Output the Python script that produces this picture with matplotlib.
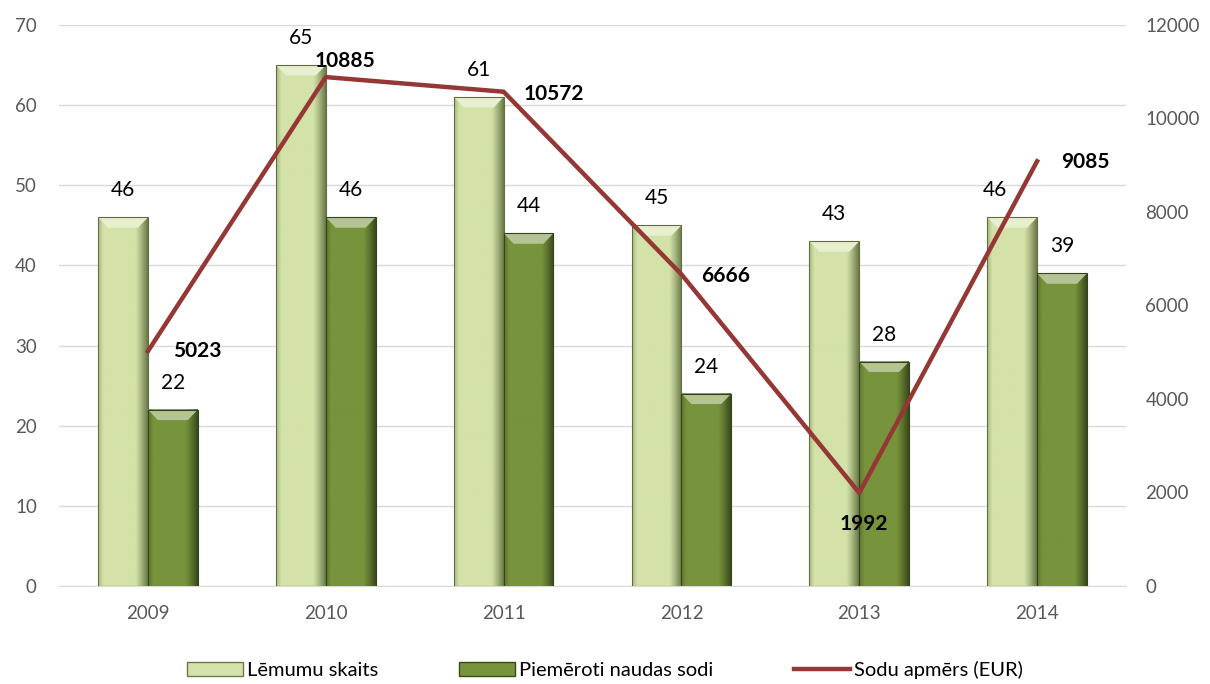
import numpy as np
import matplotlib.pyplot as plt
from matplotlib.colors import to_rgb
from matplotlib.patches import Polygon, Patch
from matplotlib.lines import Line2D

plt.rcParams['font.family'] = ['Lato', 'DejaVu Sans']

years = ['2009', '2010', '2011', '2012', '2013', '2014']
lemumi = [46, 65, 61, 45, 43, 46]
sodi = [22, 46, 44, 24, 28, 39]
apmers = [5023, 10885, 10572, 6666, 1992, 9085]

LIGHT = '#d3e2a8'
DARK = '#77933c'
RED = '#953735'


def bevel_bar(ax, x0, w, h, base, edge):
    base = np.array(to_rgb(base))
    edge = np.array(to_rgb(edge))
    t = np.linspace(0, 1, 60)
    # flat in the middle, darker towards the right edge, a bit at left
    k = np.clip((t - 0.75) / 0.25, 0, 1) ** 1.2 + np.clip((0.1 - t) / 0.1, 0, 1) * 0.4
    k = np.clip(k, 0, 1)
    cols = base[None, :] * (1 - k[:, None]) + edge[None, :] * k[:, None]
    ax.imshow(cols[None, :, :], extent=(x0, x0 + w, 0, h), aspect='auto',
              zorder=2, interpolation='bilinear')
    bw = w * 0.2
    bh = 1.3
    top = base + (1 - base) * 0.45
    ax.add_patch(Polygon([(x0, h), (x0 + w, h), (x0 + w - bw, h - bh), (x0 + bw, h - bh)],
                         closed=True, facecolor=top, edgecolor='none', zorder=3))
    ax.add_patch(plt.Rectangle((x0, 0), w, h, facecolor='none',
                               edgecolor=edge * 0.9, linewidth=0.8, zorder=3))


fig = plt.figure(figsize=(12.1, 6.84), dpi=100)
ax = fig.add_axes([0.0488, 0.1433, 0.8818, 0.8202])
x = np.arange(len(years))
w = 0.28

# the last light-bar label was nudged left in the original to clear the line
light_shift = [0, 0, 0, 0, 0, -17]

for i in x:
    bevel_bar(ax, i - w, w, lemumi[i], LIGHT, '#6b7a48')
    bevel_bar(ax, i, w, sodi[i], DARK, '#3a4a1c')
    ax.annotate(str(lemumi[i]), (i - w / 2, lemumi[i]), xytext=(light_shift[i], 27),
                textcoords='offset pixels', ha='center', va='center',
                fontsize=15, color='black', zorder=6)
    ax.annotate(str(sodi[i]), (i + w / 2, sodi[i]), xytext=(0, 27),
                textcoords='offset pixels', ha='center', va='center',
                fontsize=15, color='black', zorder=6)

ax.set_xlim(-0.5, len(years) - 0.5)
ax.set_ylim(0, 70)
ax.set_yticks(range(0, 71, 10))
ax.set_xticks(x)
ax.set_xticklabels(years)
ax.grid(axis='y', color='#d9d9d9', linewidth=1)
ax.set_axisbelow(True)
for s in ['top', 'right', 'left']:
    ax.spines[s].set_visible(False)
ax.spines['bottom'].set_color('#d9d9d9')
ax.tick_params(axis='y', length=0, labelsize=13.5, labelcolor='#595959', pad=16)
ax.tick_params(axis='x', length=0, labelsize=13.5, labelcolor='#595959', pad=14)

ax2 = ax.twinx()
ax2.plot(x, apmers, color=RED, linewidth=3.2, zorder=5)
ax2.set_ylim(0, 12000)
ax2.set_yticks(range(0, 12001, 2000))
for s in ax2.spines.values():
    s.set_visible(False)
ax2.tick_params(axis='y', length=0, labelsize=13.5, labelcolor='#595959', pad=14)

offsets = [(49, 0), (19, 16), (50, -2), (44, -2), (5, -31), (48, -1)]
for i, v in enumerate(apmers):
    ax2.annotate(str(v), (x[i], v), xytext=offsets[i], textcoords='offset pixels',
                 ha='center', va='center', fontsize=15, fontweight='bold', zorder=7)

handles = [Patch(facecolor=LIGHT, edgecolor='#6b7a48'),
           Patch(facecolor=DARK, edgecolor='#3a4a1c'),
           Line2D([0], [0], color=RED, linewidth=3.2)]
labels = ['Lēmumu skaits', 'Piemēroti naudas sodi', 'Sodu apmērs (EUR)']
fig.legend(handles, labels, loc='center', bbox_to_anchor=(0.5, 0.02), ncol=3,
           frameon=False, fontsize=14.5, handlelength=2.8, handletextpad=0.2,
           columnspacing=4.0)

fig.savefig('out.png', dpi=100)
